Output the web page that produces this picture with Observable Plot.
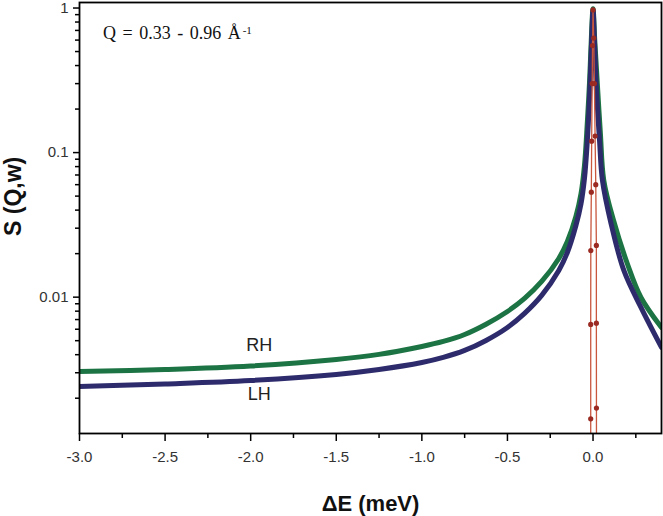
<!DOCTYPE html>
<html><head><meta charset="utf-8">
<script src="https://cdn.jsdelivr.net/npm/d3@7"></script>
<script src="https://cdn.jsdelivr.net/npm/@observablehq/plot@0.6"></script>
<style>body{margin:0;background:#fff;} #chart{width:663px;height:516px;}</style>
</head><body><div id="chart"></div>
<script>
// ---- data ----
const energyRH = [-3.0, -2.5, -2.0, -1.5, -1.25, -1.0, -0.875, -0.75, -0.625, -0.5, -0.4, -0.3, -0.2, -0.15, -0.1, -0.07, -0.05, -0.037, -0.02, -0.008, 0, 0.01, 0.024, 0.043, 0.063, 0.12, 0.2, 0.28, 0.4];
const sRH      = [0.00306, 0.00316, 0.00334, 0.00371, 0.00402, 0.00456, 0.00494, 0.00552, 0.00650, 0.00796, 0.00980, 0.01284, 0.01852, 0.02428, 0.03614, 0.05215, 0.0814, 0.1355, 0.315, 0.699, 0.99, 0.6, 0.315, 0.136, 0.0641, 0.0339, 0.0171, 0.00995, 0.00617];

const energyLH = [-3.0, -2.5, -2.0, -1.5, -1.25, -1.0, -0.875, -0.75, -0.625, -0.5, -0.4, -0.3, -0.2, -0.15, -0.1, -0.07, -0.05, -0.035, -0.02, -0.005, 0, 0.008, 0.02, 0.038, 0.055, 0.105, 0.18, 0.28, 0.4];
const sLH      = [0.00241, 0.00251, 0.00265, 0.00292, 0.00316, 0.00353, 0.00383, 0.00428, 0.00502, 0.00617, 0.00772, 0.01028, 0.0153, 0.02038, 0.03131, 0.04446, 0.06621, 0.112, 0.248, 0.757, 0.97, 0.6, 0.269, 0.121, 0.0641, 0.0324, 0.0153, 0.00849, 0.00449];

const energyRes = [-0.0135, -0.0135, -0.0135, -0.013, -0.01, -0.008, -0.005, -0.003, 0, 0.004, 0.008, 0.012, 0.016, 0.0195, 0.0195, 0.02, 0.02];
const sRes      = [0.0001, 0.00144, 0.00648, 0.021, 0.0532, 0.12, 0.3, 0.55, 0.97, 0.62, 0.3, 0.13, 0.06, 0.0228, 0.00661, 0.00171, 0.0001];

const seriesNames = ["RH", "LH"];
const labelE = [-1.95, -1.95];
const labelS = [0.00467, 0.00214];

const xMajor = [-3, -2.5, -2, -1.5, -1, -0.5, 0];
const xMinor = [-2.75, -2.25, -1.75, -1.25, -0.75, -0.25, 0.25];
const yMajor = [1, 0.1, 0.01];
const yMajorLabels = ["1", "0.1", "0.01"];
const yMinor = [0.002, 0.003, 0.004, 0.005, 0.006, 0.007, 0.008, 0.009,
                0.02, 0.03, 0.04, 0.05, 0.06, 0.07, 0.08, 0.09,
                0.2, 0.3, 0.4, 0.5, 0.6, 0.7, 0.8, 0.9];

const xTitle = "ΔE (meV)";
const yTitle = "S (Q,w)";
const annot = "Q = 0.33 - 0.96 Å";
const annotSup = "-1";

// ---- build tables ----
const rh = energyRH.map((e, i) => ({e, s: sRH[i]}));
const lh = energyLH.map((e, i) => ({e, s: sLH[i]}));
const res = energyRes.map((e, i) => ({e, s: sRes[i]}));
const labels = seriesNames.map((n, i) => ({n, e: labelE[i], s: labelS[i]}));

const green = "#1c7343", navy = "#2d2b6c", redDot = "#9a2a22", redLine = "#c8573e";

const plot = Plot.plot({
  width: 663, height: 516,
  marginLeft: 79, marginRight: 2, marginTop: 2, marginBottom: 83,
  style: {fontFamily: "'Liberation Sans', Arial, sans-serif", background: "#fff", color: "#000"},
  x: {domain: [-3, 0.4]},
  y: {type: "log", domain: [0.00114, 1.092]},
  marks: [
    Plot.line(rh, {x: "e", y: "s", stroke: green, strokeWidth: 5, curve: "catmull-rom", clip: true, strokeLinejoin: "round"}),
    Plot.line(lh, {x: "e", y: "s", stroke: navy, strokeWidth: 5, curve: "catmull-rom", clip: true, strokeLinejoin: "round"}),
    Plot.line(res, {x: "e", y: "s", stroke: redLine, strokeWidth: 1.3, clip: true}),
    Plot.dot(res.filter(d => d.s > 0.0012), {x: "e", y: "s", r: 2.6, fill: redDot, stroke: "none"}),
    Plot.text(labels, {x: "e", y: "s", text: "n", fontSize: 18, fill: "#222", textAnchor: "middle", lineAnchor: "middle"}),
    Plot.axisX({ticks: xMajor, tickSize: 8, tickPadding: 10, tickFormat: d => d.toFixed(1), fontSize: 15, fill: "#333", stroke: "#000", strokeWidth: 1.5, label: null}),
    Plot.axisX({ticks: xMinor, tickSize: 5, tickFormat: () => "", stroke: "#000", strokeWidth: 1.5, label: null}),
    Plot.axisY({ticks: yMajor, tickSize: 6, tickPadding: 5, tickFormat: d => yMajorLabels[yMajor.indexOf(d)], fontSize: 15, fill: "#333", stroke: "#000", strokeWidth: 1.5, label: null}),
    Plot.axisY({ticks: yMinor, tickSize: 4, tickFormat: () => "", stroke: "#000", strokeWidth: 1.5, label: null}),
    Plot.text([xTitle], {frameAnchor: "bottom", dy: 70, text: d => d, fontSize: 22, fontWeight: "bold", fill: "#111", lineAnchor: "middle"}),
    Plot.text([yTitle], {frameAnchor: "left", dx: -66, dy: 18, text: d => d, rotate: -90, fontSize: 23, fontWeight: "bold", fill: "#111", lineAnchor: "middle"}),
    Plot.text([annot], {frameAnchor: "top-left", dx: 23.5, dy: 36, text: d => d, fontSize: 18, fontFamily: "'Liberation Serif', 'Times New Roman', serif", fill: "#111", textAnchor: "start", lineAnchor: "bottom"}),
    Plot.frame({stroke: "#000", strokeWidth: 1.8})
  ]
});
document.getElementById("chart").appendChild(plot);

// superscript and word spacing for the annotation
d3.select(plot).selectAll("text").each(function() {
  if (this.textContent === annot) {
    const t = d3.select(this).style("word-spacing", "2px");
    t.append("tspan").attr("dy", "-0.45em").attr("dx", "2").style("font-size", "11px").text(annotSup);
  }
});
</script>
</body></html>
